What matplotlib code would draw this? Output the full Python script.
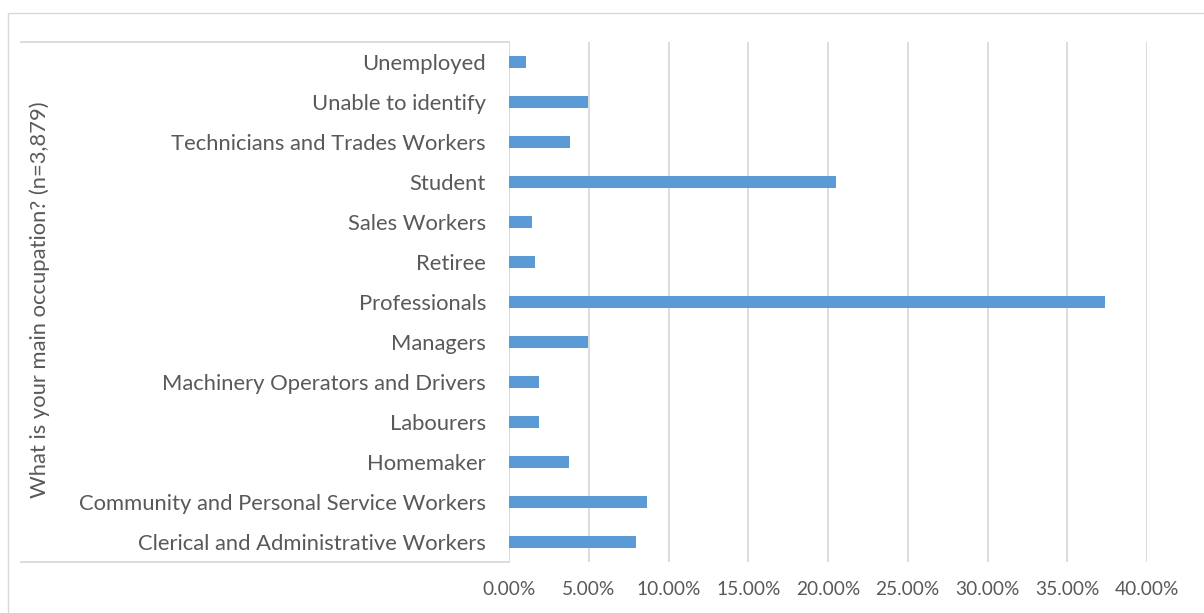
import matplotlib
matplotlib.use("Agg")
import matplotlib.pyplot as plt
from matplotlib.lines import Line2D
from matplotlib.ticker import FuncFormatter

plt.rcParams['font.family'] = ['Lato', 'DejaVu Sans']

# Share of respondents (%) by main occupation, listed bottom to top
categories = [
    "Clerical and Administrative Workers",
    "Community and Personal Service Workers",
    "Homemaker",
    "Labourers",
    "Machinery Operators and Drivers",
    "Managers",
    "Professionals",
    "Retiree",
    "Sales Workers",
    "Student",
    "Technicians and Trades Workers",
    "Unable to identify",
    "Unemployed",
]
shares = [7.97, 8.68, 3.75, 1.86, 1.86, 4.96, 37.38, 1.65, 1.46, 20.48, 3.85, 4.96, 1.07]
x_ticks = [0, 5, 10, 15, 20, 25, 30, 35, 40]
y_title = "What is your main occupation? (n=3,879)"

BAR = "#5B9BD5"
GRID = "#D9D9D9"
TEXT = "#595959"

W, H = 1204, 613
fig = plt.figure(figsize=(W / 100, H / 100), dpi=100)

def fx(px):
    return px / W

def fy(py):
    return 1 - py / H

left, right, top, bottom = 509, 1147, 42, 562
ax = fig.add_axes([fx(left), fy(bottom), fx(right - left), (bottom - top) / H])

ypos = list(range(len(categories)))
ax.barh(ypos, shares, height=0.32, color=BAR, zorder=3)

ax.set_xlim(0, 40)
ax.set_ylim(-0.5, len(categories) - 0.5)
ax.set_xticks(x_ticks)
ax.xaxis.set_major_formatter(FuncFormatter(lambda v, p: f"{v:.2f}%"))
ax.set_yticks(ypos)
ax.set_yticklabels(categories)

for v in x_ticks:
    ax.axvline(v, color=GRID, lw=1.3, zorder=1)

for s in ax.spines.values():
    s.set_visible(False)
ax.tick_params(axis='both', length=0, colors=TEXT)
ax.tick_params(axis='y', labelsize=15.8, pad=16.5)
ax.tick_params(axis='x', labelsize=13.8, pad=14)

# Box framing the category labels (top and bottom edges)
for py in (top, bottom):
    fig.add_artist(Line2D([fx(21), fx(509)], [fy(py), fy(py)],
                          color=GRID, lw=1.3, transform=fig.transFigure))

# Outer chart border (left and top edges)
fig.add_artist(Line2D([fx(7.7), fx(7.7), fx(W + 5)], [fy(H + 5), fy(13), fy(13)],
                      color=GRID, lw=1.0, transform=fig.transFigure))

fig.text(fx(40), fy(300), y_title, rotation=90, ha='center', va='center',
         fontsize=15.8, color=TEXT)

fig.savefig("out.png", dpi=100)
